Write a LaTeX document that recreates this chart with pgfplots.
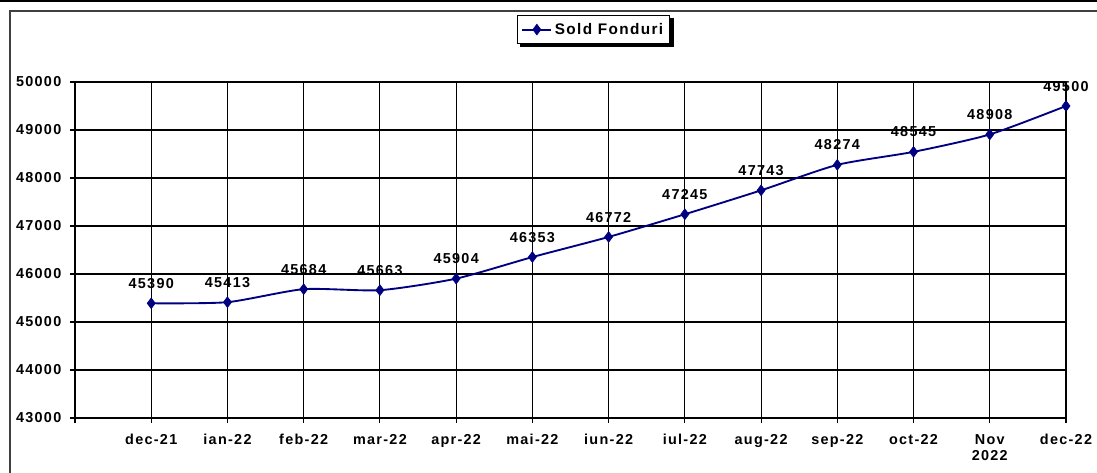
\documentclass[border=0pt]{standalone}
\usepackage{fontspec}
\setmainfont{Liberation Sans}[LetterSpace=9]
\usepackage{pgfplots}
\pgfplotsset{compat=1.18}
\definecolor{navy}{RGB}{0,0,128}
\newcommand{\lf}{\fontsize{10.8}{12.5}\selectfont\bfseries}
\newcommand{\lgf}{\fontsize{11.5}{13}\selectfont\bfseries}
\begin{document}
\begin{tikzpicture}
\useasboundingbox (0,0) rectangle (822.75pt,354pt);
\draw[line width=1.5pt] (0,353.25pt) -- (822.75pt,353.25pt);
\draw[line width=1pt, black!75] (7.5pt,-10pt) -- (7.5pt,345.75pt) -- (830pt,345.75pt);
\begin{axis}[
  at={(56.25pt,40.5pt)}, anchor=south west,
  scale only axis, width=743.25pt, height=252pt,
  xmin=-1, xmax=12, ymin=43000, ymax=50000,
  axis x line=bottom, axis y line=left,
  axis line style={-, black, line width=0.8pt},
  xtick={-1,0,...,12},
  xticklabels={,dec-21,ian-22,feb-22,mar-22,apr-22,mai-22,iun-22,iul-22,aug-22,sep-22,oct-22,{Nov\\2022},dec-22},
  ytick={43000,44000,...,50000},
  scaled y ticks=false,
  tick align=outside, major tick length=3.75pt,
  tick style={black, line width=0.8pt},
  grid=major, major grid style={black, line width=0.8pt},
  /pgf/number format/assume math mode=true,
  /pgf/number format/1000 sep={},
  /pgf/number format/fixed, /pgf/number format/precision=0,
  xticklabel style={font=\lf, align=center, yshift=-5pt},
  yticklabel style={font=\lf, xshift=-3pt},
  legend style={at={(0.446,1.199)}, anchor=north west, draw=black, fill=white,
    line width=0.8pt, font=\lgf, inner xsep=3pt, inner ysep=3.5pt, name=leg},
  legend cell align=left,
  legend image code/.code={\draw[line width=1.4pt, mark repeat=2,mark phase=2] plot coordinates {(0cm,0cm) (0.38cm,0cm) (0.76cm,0cm)};},
  nodes near coords, point meta=y,
  every node near coord/.append style={font=\lf, anchor=south, yshift=7.5pt, text=black},
  clip=false,
]
\addplot[navy, line width=1.4pt, smooth, tension=0.4, mark=diamond*, mark size=4pt,
  mark options={fill=navy, line width=0.5pt}]
coordinates {
(0,45390) (1,45413) (2,45684) (3,45663) (4,45904) (5,46353) (6,46772)
(7,47245) (8,47743) (9,48274) (10,48545) (11,48908) (12,49500)
};
\addlegendentry{Sold Fonduri}
\end{axis}
\fill[black] ([xshift=2.5pt]leg.south west) rectangle ([xshift=2.5pt,yshift=-2.5pt]leg.south east);
\fill[black] ([yshift=-2.5pt]leg.north east) rectangle ([xshift=2.5pt,yshift=-2.5pt]leg.south east);
\end{tikzpicture}
\end{document}
